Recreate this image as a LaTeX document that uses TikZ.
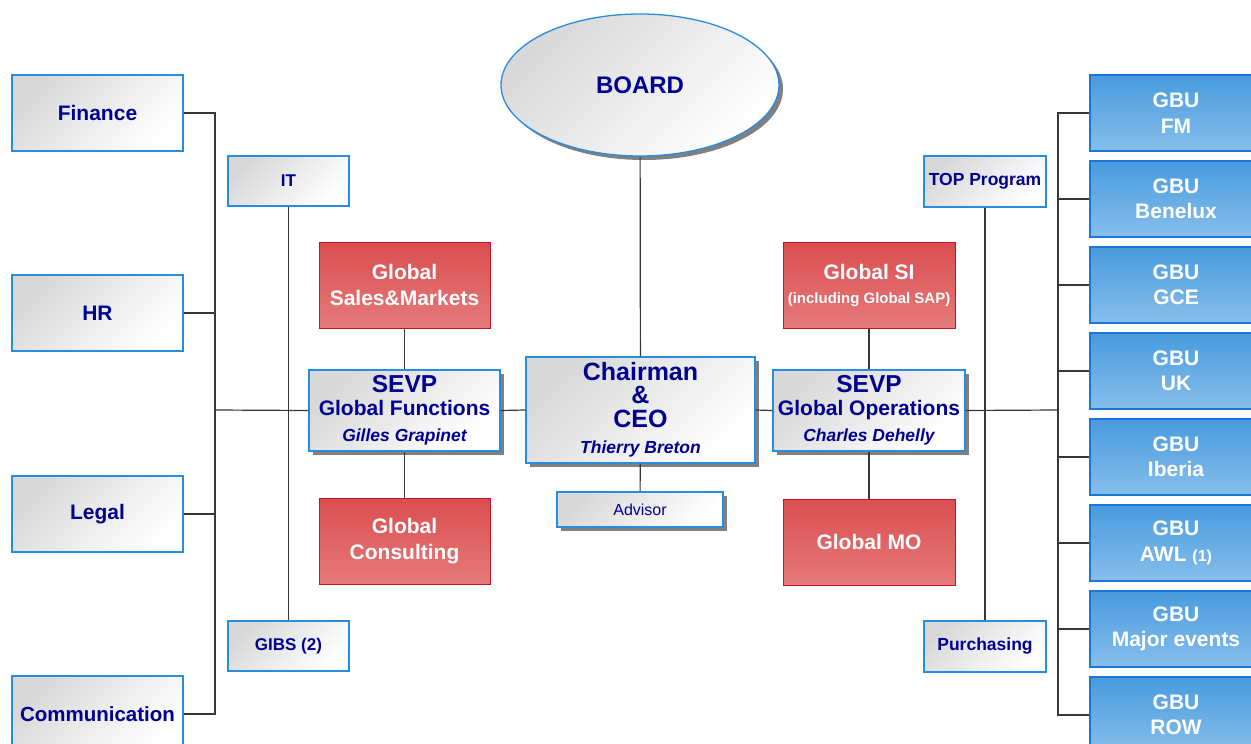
\documentclass[tikz,border=0pt]{standalone}
\usepackage{fontspec}
\setmainfont{Liberation Sans}
\usetikzlibrary{positioning,shapes.geometric,shadows}
\definecolor{navytext}{RGB}{0,0,145}
\definecolor{boxblue}{RGB}{40,140,225}
\definecolor{boxgray}{RGB}{216,216,216}
\definecolor{redtop}{RGB}{218,78,80}
\definecolor{redbot}{RGB}{230,122,122}
\definecolor{redline}{RGB}{190,20,40}
\definecolor{gbutop}{RGB}{72,155,222}
\definecolor{gbubot}{RGB}{135,190,235}
\definecolor{gbuline}{RGB}{25,120,215}
\definecolor{linkgray}{RGB}{55,55,55}
\definecolor{shadowgray}{RGB}{128,128,128}
\newcommand{\boxfont}[2]{\fontsize{#1}{#2}\selectfont}
\tikzset{
  unit/.style={draw=boxblue,line width=1.3pt,top color=boxgray,bottom color=white,shading angle=45,
    text=navytext,align=center,inner sep=0pt},
  staff/.style={unit,minimum width=171,minimum height=76,font=\bfseries\boxfont{21}{25}},
  aide/.style={unit,minimum width=121,minimum height=50,font=\bfseries\boxfont{17}{20}},
  global/.style={draw=redline,line width=1pt,top color=redtop,bottom color=redbot,
    text=white,font=\bfseries\boxfont{21}{26},align=center,inner sep=0pt,minimum width=171,minimum height=86},
  gbu/.style={draw=gbuline,line width=1.3pt,top color=gbutop,bottom color=gbubot,
    text=white,font=\bfseries\boxfont{21}{25.5},align=center,inner sep=0pt,minimum width=172,minimum height=76},
  boxshadow/.style={drop shadow={shadow xshift=4pt,shadow yshift=-4pt,fill=shadowgray,opacity=1}},
  link/.style={draw=linkgray,line width=1.2pt}
}

\begin{document}
\begin{tikzpicture}[x=1pt,y=-1pt]
  \useasboundingbox (0,0) rectangle (1251,744);
  % top of the tree
  \node [unit,boxshadow,ellipse,font=\bfseries\boxfont{24}{28},minimum width=278,minimum height=142] (board) at (640,85) {BOARD};
  \node [unit,boxshadow,font=\bfseries\boxfont{25}{23.5},minimum width=229,minimum height=106] (chair) at (640.5,410)
    {Chairman\\\&\\CEO\\[3pt]{\boxfont{17.5}{20}\itshape Thierry Breton}};
  \node [unit,boxshadow,font=\boxfont{16}{19},minimum width=166,minimum height=35] (advisor) at (640,509.5) {Advisor};
  % functions side
  \node [unit,boxshadow,font=\bfseries\boxfont{21}{22.5},minimum width=191,minimum height=81] (sevpf) at (404.5,410.5)
    {{\boxfont{24.5}{22}SEVP}\\Global Functions\\[4pt]{\boxfont{17.5}{20}\itshape Gilles Grapinet}};
  \node [global] (sales) at (404.5,285) {Global\\Sales\&Markets};
  \node [global] (consult) at (404.5,541) {Global\\Consulting};
  \node [aide] (it) at (288.5,181) {IT};
  \node [aide] (gibs) at (288.5,646) {GIBS (2)};
  \node [staff] (finance) at (97.5,113) {Finance};
  \node [staff] (hr) at (97.5,313) {HR};
  \node [staff] (legal) at (97.5,514) {Legal};
  \node [staff,font=\bfseries\boxfont{20.5}{25}] (comm) at (97.5,714) {Communication};
  % operations side
  \node [unit,boxshadow,font=\bfseries\boxfont{21}{22.5},minimum width=192,minimum height=81] (sevpo) at (869,410.5)
    {{\boxfont{24.5}{22}SEVP}\\Global Operations\\[4pt]{\boxfont{17.5}{20}\itshape Charles Dehelly}};
  \node [global,minimum width=172,font=\bfseries\boxfont{21}{24}] (si) at (869,285) {Global SI\\{\boxfont{15}{20}(including Global SAP)}};
  \node [global,minimum width=172] (mo) at (869,542) {Global MO};
  \node [aide,font=\bfseries\boxfont{17.5}{20},minimum width=122,minimum height=51] (top) at (985,181.5) {TOP Program};
  \node [aide,font=\bfseries\boxfont{17.5}{20},minimum width=122,minimum height=51] (purch) at (985,646.5) {Purchasing};
  \node [gbu] (fm) at (1176,113) {GBU\\FM};
  \node [gbu] (benelux) at (1176,199) {GBU\\Benelux};
  \node [gbu] (gce) at (1176,285) {GBU\\GCE};
  \node [gbu] (uk) at (1176,371) {GBU\\UK};
  \node [gbu] (iberia) at (1176,457) {GBU\\Iberia};
  \node [gbu] (awl) at (1176,543) {GBU\\AWL {\boxfont{16}{25}(1)}};
  \node [gbu] (events) at (1176,629) {GBU\\Major events};
  \node [gbu] (row) at (1176,715) {GBU\\ROW};
  % connectors
  \coordinate (lbus) at (215,410);
  \coordinate (rbus) at (1058,410);
  \draw [link] (board) -- (chair);
  \draw [link] (chair) -- (advisor);
  \draw [link] (sevpf.east) -- (chair.west);
  \draw [link] (chair.east) -- (sevpo.west);
  \draw [link] (sales) -- (sevpf);
  \draw [link] (sevpf) -- (consult);
  \draw [link] (si) -- (sevpo);
  \draw [link] (sevpo) -- (mo);
  \draw [link] (it) -- (gibs);
  \draw [link] (top) -- (purch);
  \draw [link] (lbus) -- (sevpf.west);
  \draw [link] (finance.east) -| (lbus);
  \draw [link] (hr.east) -| (lbus);
  \draw [link] (legal.east) -| (lbus);
  \draw [link] (comm.east) -| (lbus);
  \draw [link] (sevpo.east) -- (rbus);
  \draw [link] (rbus) |- (fm.west);
  \draw [link] (rbus) |- (benelux.west);
  \draw [link] (rbus) |- (gce.west);
  \draw [link] (rbus) |- (uk.west);
  \draw [link] (rbus) |- (iberia.west);
  \draw [link] (rbus) |- (awl.west);
  \draw [link] (rbus) |- (events.west);
  \draw [link] (rbus) |- (row.west);
\end{tikzpicture}
\end{document}
